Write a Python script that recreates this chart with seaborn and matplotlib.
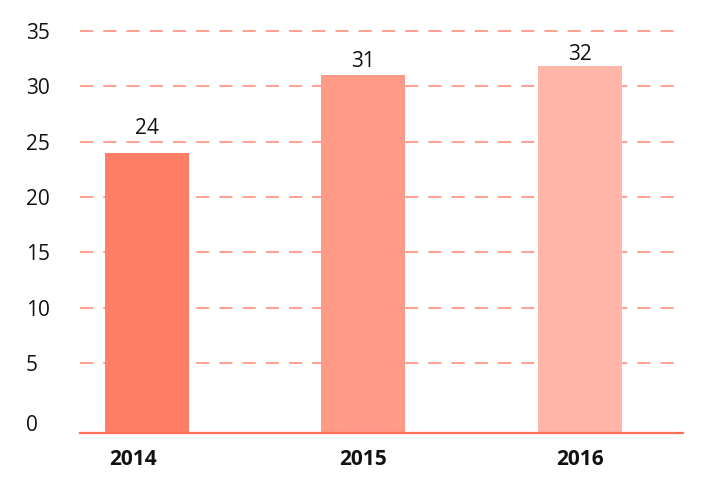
import matplotlib
matplotlib.use("Agg")
import matplotlib.pyplot as plt
import matplotlib.transforms as mtransforms
import seaborn as sns
import pandas as pd

# ---------------- Data ----------------
years = ["2014", "2015", "2016"]
values = [24, 31, 31.8]
labels = ["24", "31", "32"]
bar_colors = ["#FF7F66", "#FF9A86", "#FFB5A7"]
y_ticks = [0, 5, 10, 15, 20, 25, 30, 35]

df = pd.DataFrame({"year": years, "value": values})

sns.set_theme(style="white")
plt.rcParams["font.family"] = ["Open Sans", "DejaVu Sans"]

fig = plt.figure(figsize=(7.22, 4.82), dpi=100)
ax = fig.add_axes([0.111, 0.1017, 0.835, 0.834])

sns.barplot(data=df, x="year", y="value", hue="year", palette=bar_colors,
            legend=False, width=0.39, saturation=1, ax=ax, zorder=3)

# bars run down to the axis line, which sits a little below zero
y_min, y_max = -1.31, 35.0
for p in ax.patches:
    top = p.get_y() + p.get_height()
    p.set_y(y_min)
    p.set_height(top - y_min)
    p.set_edgecolor("none")

ax.set_ylim(y_min, y_max)
ax.set_xlim(-0.308, 2.477)
ax.set_yticks(y_ticks)
ax.set_xlabel("")
ax.set_ylabel("")

# dashed grid lines (not at zero)
for t in y_ticks[1:]:
    ax.axhline(t, color="#FF8670", lw=1.1, linestyle=(0, (8.6, 6.6)), zorder=1, clip_on=False)

for s in ["top", "right", "left"]:
    ax.spines[s].set_visible(False)
ax.spines["bottom"].set_color("#FF6E55")
ax.spines["bottom"].set_linewidth(1.6)
ax.spines["bottom"].set_zorder(4)

ax.tick_params(axis="y", length=0, pad=39, labelsize=15, labelcolor="#111111")
ax.tick_params(axis="x", length=0, pad=11.5, labelsize=15, labelcolor="#111111")
y_labels = ax.get_yticklabels()
for lbl in y_labels:
    lbl.set_horizontalalignment("left")
# the zero label sits a little lower, near the axis line
y_labels[0].set_transform(y_labels[0].get_transform() + mtransforms.ScaledTranslation(0, -0.05, fig.dpi_scale_trans))

# the first year label sits a bit left of its bar in the original
x_label_shift = [-14, 0, 0]
for lbl, dx in zip(ax.get_xticklabels(), x_label_shift):
    lbl.set_fontweight("bold")
    lbl.set_transform(lbl.get_transform() + mtransforms.ScaledTranslation(dx / 100, 0, fig.dpi_scale_trans))

label_pad = [13.5, 6.1, 4.8]
for i, p in enumerate(ax.patches):
    ax.annotate(labels[i], (p.get_x() + p.get_width() / 2, p.get_y() + p.get_height()),
                xytext=(0, label_pad[i]), textcoords="offset points",
                ha="center", va="baseline", fontsize=15, color="#111111")

plt.savefig("out.png", dpi=100)
